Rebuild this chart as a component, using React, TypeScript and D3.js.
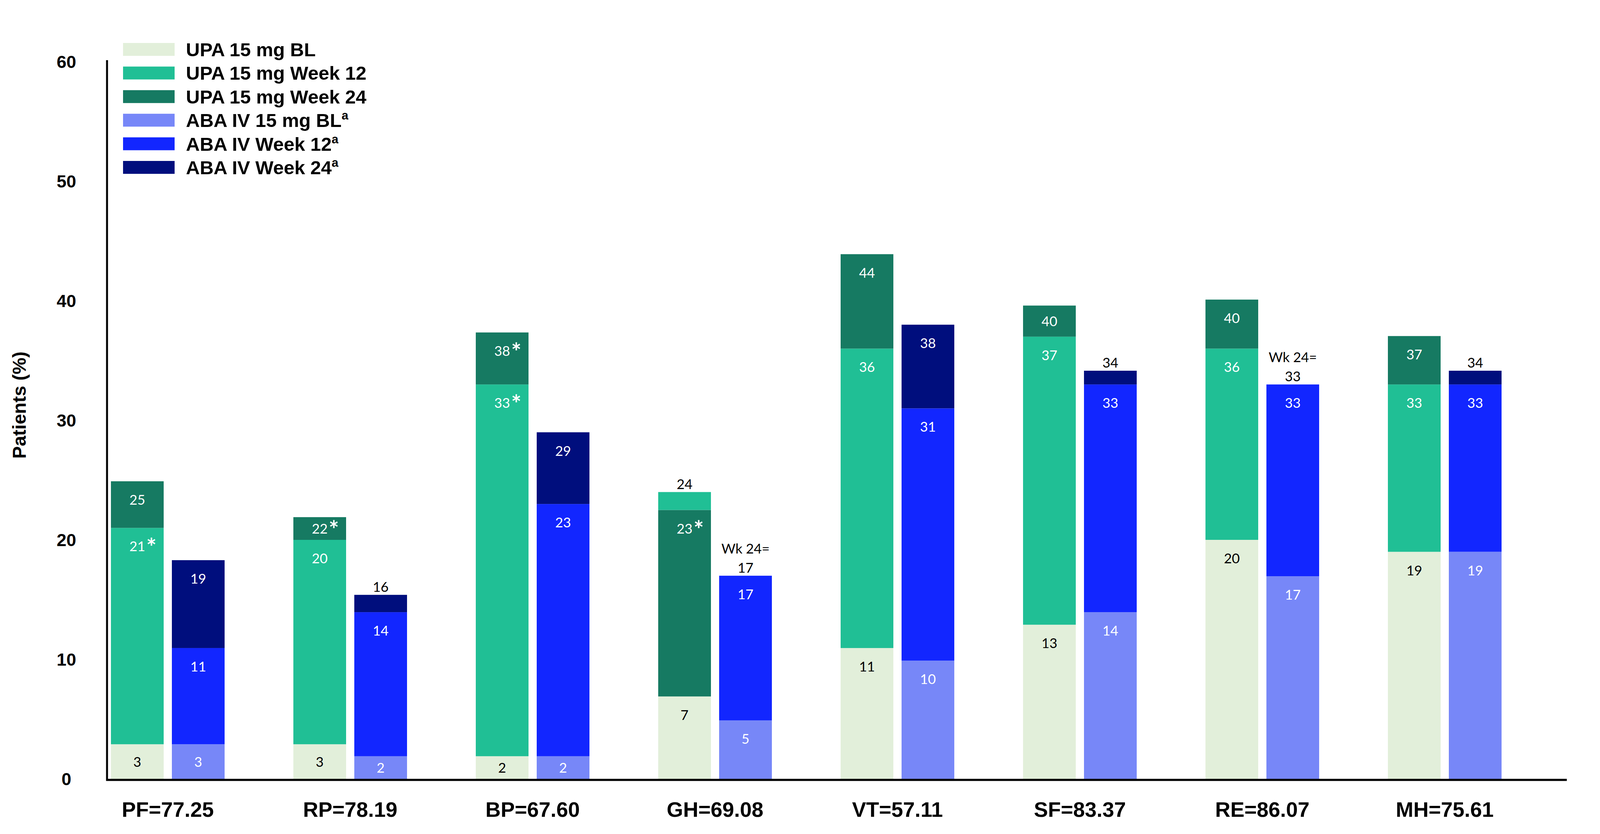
import React from 'react'
import * as d3 from 'd3'

const categories = ['PF=77.25', 'RP=78.19', 'BP=67.60', 'GH=69.08', 'VT=57.11', 'SF=83.37', 'RE=86.07', 'MH=75.61']
const arms = ['UPA', 'ABA']

// bar heights (% of patients)
const upaBL = [2.9, 2.9, 1.9, 6.9, 10.95, 12.9, 20.0, 19.0]
const upaW12 = [21.0, 20.0, 33.0, 24.0, 36.0, 37.0, 36.0, 33.0]
const upaW24 = [24.9, 21.9, 37.35, 22.5, 43.9, 39.6, 40.1, 37.05]
const abaBL = [2.9, 1.9, 1.9, 4.9, 9.9, 13.95, 16.96, 19.0]
const abaW12 = [10.95, 13.95, 23.0, 17.0, 31.0, 33.0, 33.0, 33.0]
const abaW24 = [18.3, 15.4, 29.0, 17.0, 38.0, 34.15, 33.0, 34.15]

// printed labels (* = significant)
const upaBLLabels = ['3', '3', '2', '7', '11', '13', '20', '19']
const upaW12Labels = ['21*', '20', '33*', '24', '36', '37', '36', '33']
const upaW24Labels = ['25', '22*', '38*', '23*', '44', '40', '40', '37']
const abaBLLabels = ['3', '2', '2', '5', '10', '14', '17', '19']
const abaW12Labels = ['11', '14', '23', '17', '31', '33', '33', '33']
const abaW24Labels = ['19', '16', '29', '17', '38', '34', '33', '34']

const yTicks = [0, 10, 20, 30, 40, 50, 60]

const series = [
  { key: 'upaBL', arm: 'UPA', name: 'UPA 15 mg BL', sup: '', values: upaBL, labels: upaBLLabels, color: '#E2EFDA', text: '#000' },
  { key: 'upaW12', arm: 'UPA', name: 'UPA 15 mg Week 12', sup: '', values: upaW12, labels: upaW12Labels, color: '#20BF95', text: '#fff' },
  { key: 'upaW24', arm: 'UPA', name: 'UPA 15 mg Week 24', sup: '', values: upaW24, labels: upaW24Labels, color: '#167A62', text: '#fff' },
  { key: 'abaBL', arm: 'ABA', name: 'ABA IV 15 mg BL', sup: 'a', values: abaBL, labels: abaBLLabels, color: '#7787F8', text: '#fff' },
  { key: 'abaW12', arm: 'ABA', name: 'ABA IV Week 12', sup: 'a', values: abaW12, labels: abaW12Labels, color: '#1226FF', text: '#fff' },
  { key: 'abaW24', arm: 'ABA', name: 'ABA IV Week 24', sup: 'a', values: abaW24, labels: abaW24Labels, color: '#000E7D', text: '#fff' },
]

const W = 4120
const H = 2135
const axisFont = '"Liberation Sans", Arial, sans-serif'
const labelFont = 'Lato, "Open Sans", sans-serif'

function Label({ x, y, text, fill }: { x: number; y: number; text: string; fill: string }) {
  const star = text.endsWith('*')
  const num = star ? text.slice(0, -1) : text
  return (
    <g>
      <text x={x} y={y} textAnchor="middle" fontFamily={labelFont} fontSize={35} fill={fill}>
        {num}
      </text>
      {star && (
        <text x={x + num.length * 10 + 3} y={y + 12} fontFamily={labelFont} fontWeight="bold" fontSize={62} fill={fill}>
          *
        </text>
      )}
    </g>
  )
}

export default function App() {
  const x = d3.scaleBand<string>().domain(categories).range([196, 3932]).paddingInner(0.3769).paddingOuter(0.18844)
  const xArm = d3.scaleBand<string>().domain(arms).range([0, x.bandwidth()]).paddingInner(0.1346)
  const y = d3.scaleLinear().domain([0, 60]).range([1994, 158])
  const unit = y(0) - y(1)

  const bars: React.ReactNode[] = []
  const labels: React.ReactNode[] = []

  categories.forEach((cat, ci) => {
    arms.forEach((arm) => {
      const bx = (x(cat) ?? 0) + (xArm(arm) ?? 0)
      const bw = xArm.bandwidth()
      const cx = bx + bw / 2
      const stack = series
        .filter((s) => s.arm === arm)
        .map((s) => ({ s, v: s.values[ci], label: s.labels[ci] }))
        .sort((a, b) => a.v - b.v)
      let prev = 0
      stack.forEach((d, k) => {
        const top = y(d.v)
        const bottom = y(prev)
        const h = bottom - top
        bars.push(
          <rect key={`${cat}-${d.s.key}`} x={bx} y={top} width={bw} height={Math.max(h, 0)} fill={d.s.color} />
        )
        const isTop = k === stack.length - 1
        if (isTop && h < 1.7 * unit) {
          // thin top segment: value printed above the bar
          if (h < 0.5) {
            labels.push(
              <g key={`l-${cat}-${d.s.key}`}>
                <text x={cx} y={top - 57} textAnchor="middle" fontFamily={labelFont} fontSize={35} fill="#000">
                  Wk 24=
                </text>
                <Label x={cx} y={top - 8} text={d.label} fill="#000" />
              </g>
            )
          } else {
            labels.push(<Label key={`l-${cat}-${d.s.key}`} x={cx} y={top - 8} text={d.label} fill="#000" />)
          }
        } else {
          const ly = Math.min(top + 60, (top + bottom) / 2 + 13)
          labels.push(<Label key={`l-${cat}-${d.s.key}`} x={cx} y={ly} text={d.label} fill={d.s.text} />)
        }
        prev = d.v
      })
    })
  })

  return (
    <svg
      width={W}
      height={H}
      viewBox={`0 0 ${W} ${H}`}
      style={{ position: 'absolute', left: 0, top: 0, background: '#fff' }}
    >
      <rect width={W} height={H} fill="#fff" />

      {bars}
      {labels}

      {/* axes */}
      <line x1={274} x2={274} y1={154} y2={1999} stroke="#000" strokeWidth={5} />
      <line x1={272} x2={4011} y1={1996.5} y2={1996.5} stroke="#000" strokeWidth={5.5} />

      {yTicks.map((t) => (
        <text
          key={`yt-${t}`}
          x={170}
          y={y(t) + 16}
          textAnchor="middle"
          fontFamily={axisFont}
          fontWeight="bold"
          fontSize={45}
          fill="#000"
        >
          {t}
        </text>
      ))}

      <text
        transform={`translate(66, 1037) rotate(-90)`}
        textAnchor="middle"
        fontFamily={axisFont}
        fontWeight="bold"
        fontSize={48}
        fill="#000"
      >
        Patients (%)
      </text>

      {categories.map((c) => (
        <text
          key={`xc-${c}`}
          x={(x(c) ?? 0) + x.bandwidth() / 2}
          y={2091}
          textAnchor="middle"
          fontFamily={axisFont}
          fontWeight="bold"
          fontSize={54}
          fill="#000"
        >
          {c}
        </text>
      ))}

      {/* legend */}
      {series.map((s, i) => {
        const ly = 110 + i * 60.4
        return (
          <g key={`lg-${s.key}`}>
            <rect x={315} y={ly} width={132} height={33} fill={s.color} />
            <text x={476} y={ly + 34} fontFamily={axisFont} fontWeight="bold" fontSize={49} fill="#000">
              {s.name}
              {s.sup && (
                <tspan fontSize={31} dy={-19}>
                  {s.sup}
                </tspan>
              )}
            </text>
          </g>
        )
      })}
    </svg>
  )
}
